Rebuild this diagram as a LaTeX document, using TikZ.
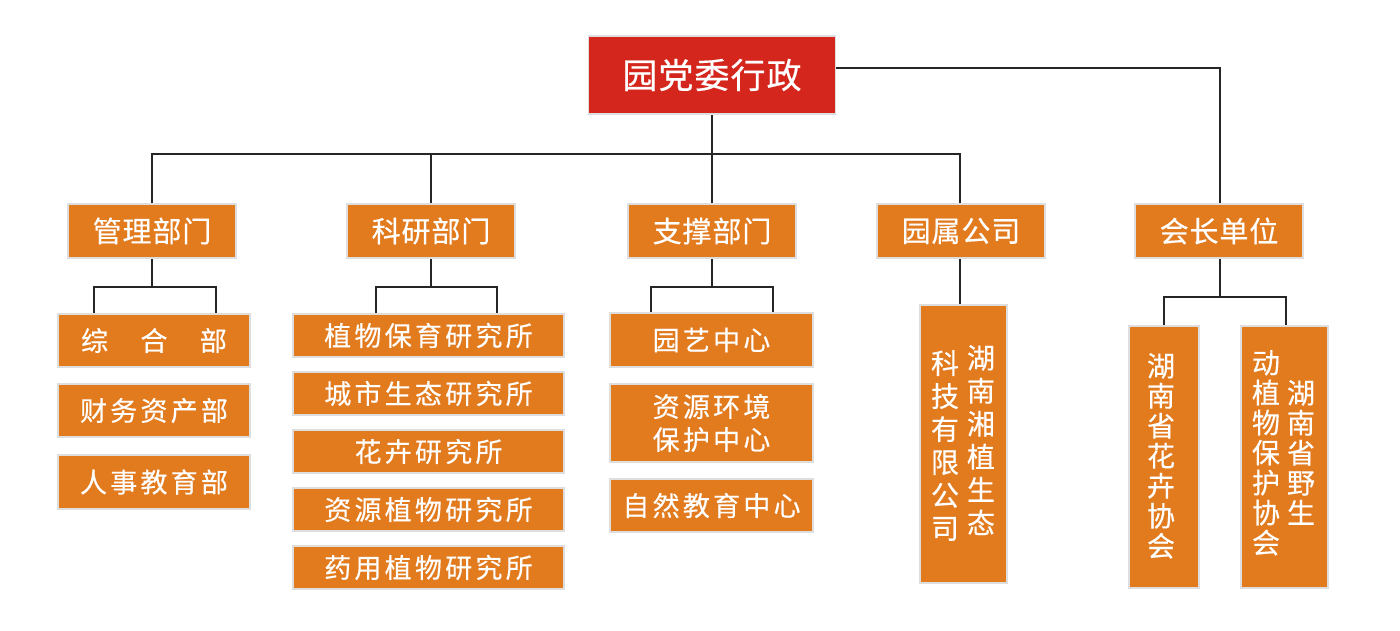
\documentclass[tikz,border=0pt]{standalone}
\usepackage{fontspec}
\usetikzlibrary{calc}
\newfontfamily\cjk{Noto Sans CJK SC}[FakeBold=0.4]
\newfontfamily\cjkls{Noto Sans CJK SC}[LetterSpace=12,FakeBold=0.4]
\newfontfamily\cjkt{Noto Sans CJK SC}[LetterSpace=3,FakeBold=0.4]
\definecolor{orng}{RGB}{226,122,30}
\definecolor{rd}{RGB}{213,38,30}
\definecolor{bdr}{RGB}{222,222,222}
\tikzset{
  box/.style={draw=bdr, line width=1.5pt, fill=orng, text=white, inner sep=0pt},
  topbox/.style={box, fill=rd, minimum width=247pt, minimum height=78pt, font=\cjkt\fontsize{35}{40}\selectfont},
  lvtwo/.style={box, minimum width=168pt, minimum height=54pt, font=\cjkt\fontsize{29}{34}\selectfont},
  lvthree/.style={box, font=\cjkls\fontsize{27}{32}\selectfont},
  vtext/.style={text=white, inner sep=0pt, align=center, anchor=north},
  conn/.style={line width=1.6pt, draw=black!85},
}
\begin{document}
\begin{tikzpicture}[x=1pt,y=-1pt]
\useasboundingbox[fill=white] (0,0) rectangle (1400,630);

% top
\node[topbox] (top) at (712,75) {园党委行政};

% level 2
\node[lvtwo] (gl) at (152,231) {管理部门};
\node[lvtwo] (ky) at (431,231) {科研部门};
\node[lvtwo] (zc) at (712,231) {支撑部门};
\node[lvtwo] (ys) at (961,231) {园属公司};
\node[lvtwo] (hz) at (1219,231) {会长单位};

% management
\node[lvthree, minimum width=192pt, minimum height=53pt] (zh) at (154,340.5) {综\hspace{1.2em}合\hspace{1.2em}部};
\node[lvthree, minimum width=192pt, minimum height=53pt] (cw) at (154,410.5) {财务资产部};
\node[lvthree, minimum width=192pt, minimum height=54pt] (rs) at (154,482) {人事教育部};

% research
\node[lvthree, minimum width=271pt, minimum height=43pt] (k1) at (428.5,335.5) {植物保育研究所};
\node[lvthree, minimum width=271pt, minimum height=43pt] (k2) at (428.5,393.5) {城市生态研究所};
\node[lvthree, minimum width=271pt, minimum height=43pt] (k3) at (428.5,451.5) {花卉研究所};
\node[lvthree, minimum width=271pt, minimum height=43pt] (k4) at (428.5,509.5) {资源植物研究所};
\node[lvthree, minimum width=271pt, minimum height=43pt] (k5) at (428.5,567.5) {药用植物研究所};

% support
\node[lvthree, minimum width=203pt, minimum height=54pt] (yy) at (711.5,340) {园艺中心};
\node[lvthree, minimum width=203pt, minimum height=78pt, align=center,
      font=\cjkls\fontsize{27}{33}\selectfont] (zy) at (711.5,423) {资源环境\\保护中心};
\node[lvthree, minimum width=203pt, minimum height=53pt] (zr) at (711.5,505.5) {自然教育中心};

% company
\node[box, minimum width=87pt, minimum height=278pt] (gs) at (963.5,444) {};
\node[vtext, font=\cjk\fontsize{28}{33}\selectfont] (gsr) at (981,345) {湖\\南\\湘\\植\\生\\态};
\node[vtext, font=\cjk\fontsize{28}{33}\selectfont] (gsl) at (945,350) {科\\技\\有\\限\\公\\司};

% associations
\node[box, minimum width=70pt, minimum height=262pt] (h1) at (1164,457) {};
\node[vtext, font=\cjk\fontsize{28}{30}\selectfont] (h1t) at (1161,353) {湖\\南\\省\\花\\卉\\协\\会};
\node[box, minimum width=87pt, minimum height=262pt] (h2) at (1284.5,457) {};
\node[vtext, font=\cjk\fontsize{28}{30}\selectfont] (h2r) at (1301,380) {湖\\南\\省\\野\\生};
\node[vtext, font=\cjk\fontsize{28}{30}\selectfont] (h2l) at (1266,350) {动\\植\\物\\保\\护\\协\\会};

% connectors
\draw[conn] (top.south) -- ++(0,39) coordinate (bus);
\draw[conn] (gl.north) |- (bus);
\draw[conn] (ky.north) |- (bus);
\draw[conn] (zc.north) -- (bus);
\draw[conn] ($(ys.north)+(-1,0)$) |- (bus);
\draw[conn] ($(top.east)+(0,-7)$) -| ($(hz.north)+(1,0)$);

\draw[conn] (gl.south) -- ++(0,28) coordinate (gb);
\draw[conn] ($(zh.north)+(-60,0)$) |- (gb) -| ($(zh.north)+(62,0)$);

\draw[conn] (ky.south) -- ++(0,28) coordinate (kb);
\draw[conn] ($(k1.north)+(-52.5,0)$) |- (kb) -| ($(k1.north)+(68.5,0)$);

\draw[conn] (zc.south) -- ++(0,28) coordinate (cb);
\draw[conn] ($(yy.north)+(-60.5,0)$) |- (cb) -| ($(yy.north)+(61.5,0)$);

\draw[conn] ($(ys.south)+(-1,0)$) -- ($(ys.south |- gs.north)+(-1,0)$);

\draw[conn] ($(hz.south)+(1,0)$) -- ++(0,38) coordinate (hb);
\draw[conn] (h1.north) |- (hb) -| ($(h2.north)+(1.5,0)$);
\end{tikzpicture}
\end{document}
